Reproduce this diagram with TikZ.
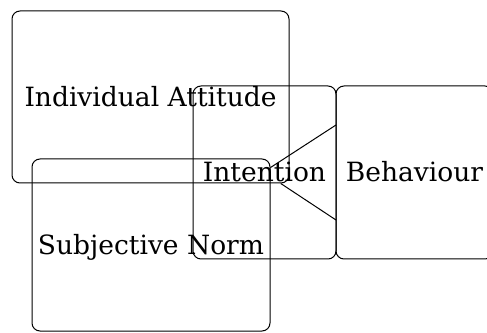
\documentclass[tikz,border=0pt]{standalone}
\usepackage{fontspec}
\setmainfont{DejaVu Serif}
\begin{document}
\begin{tikzpicture}[x=1pt,y=1pt,
  box/.style={draw, line width=1pt, rounded corners=8pt, inner sep=0pt,
    font=\fontsize{26.5}{30}\selectfont, text height=19pt, text depth=0pt},
  link/.style={draw, line width=1pt}]
  \useasboundingbox (0,0) rectangle (487,332);
  % the four constructs
  \node[box, minimum width=277pt, minimum height=172pt] (att) at (150.5,235) {Individual Attitude};
  \node[box, minimum width=238pt, minimum height=172pt] (norm) at (151,87) {Subjective Norm};
  \node[box, minimum width=143pt, minimum height=173pt] (int) at (264.5,159.5) {Intention};
  \node[box, minimum width=157pt, minimum height=173pt] (beh) at (414.5,159.5) {Behaviour};
  % links running through the intention box
  \coordinate (e1) at (336,207);
  \coordinate (e2) at (336,112);
  \path[link] (norm) -- (e1);
  \path[link] (att) -- (e2);
\end{tikzpicture}
\end{document}
